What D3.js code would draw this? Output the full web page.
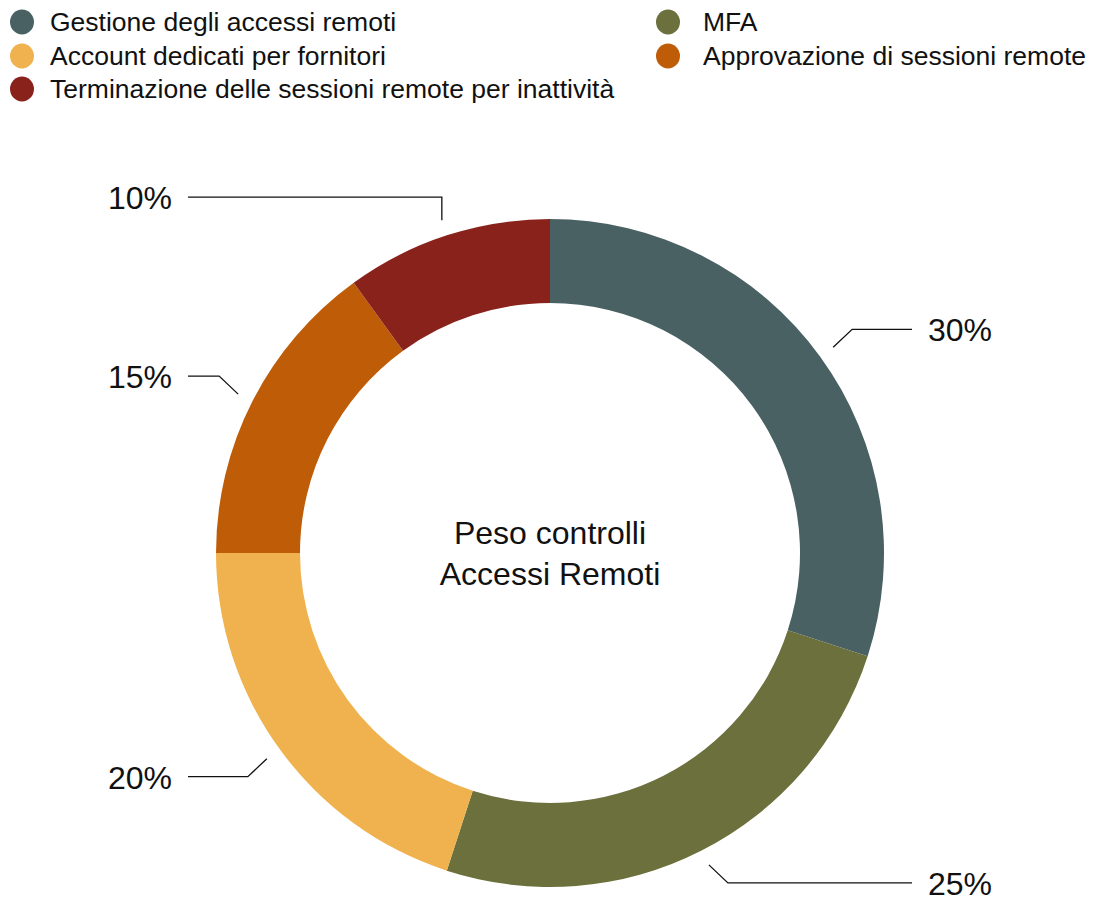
<!DOCTYPE html>
<html>
<head>
<meta charset="utf-8">
<script src="https://cdn.jsdelivr.net/npm/d3@7/dist/d3.min.js"></script>
<style>
  html, body { margin: 0; padding: 0; background: #ffffff; }
  svg { display: block; font-family: "Liberation Sans", Arial, Helvetica, sans-serif; }
</style>
</head>
<body>
<svg id="chart" width="1095" height="897"></svg>
<script>
// Control weights for remote access
const categories = [
  "Gestione degli accessi remoti",
  "MFA",
  "Account dedicati per fornitori",
  "Approvazione di sessioni remote",
  "Terminazione delle sessioni remote per inattività"
];
const values = [30, 25, 20, 15, 10];
const colors = ["#4a6163", "#6c703c", "#f0b24e", "#be5c08", "#8a221c"];
const centerTitle = ["Peso controlli", "Accessi Remoti"];

// Legend layout order (two columns, filled row by row)
const legendOrder = [0, 1, 2, 3, 4];

const svg = d3.select("#chart");

const cx = 550, cy = 553;
const outerR = 334, innerR = 250;

const color = d3.scaleOrdinal().domain(categories).range(colors);

const pie = d3.pie().sort(null).value(d => d.value);
const data = categories.map((c, i) => ({ name: c, value: values[i] }));
const arcs = pie(data);
const total = d3.sum(values);

const arc = d3.arc().innerRadius(innerR).outerRadius(outerR);

const g = svg.append("g").attr("transform", `translate(${cx},${cy})`);

g.selectAll("path.slice")
  .data(arcs)
  .join("path")
  .attr("class", "slice")
  .attr("d", arc)
  .attr("fill", d => color(d.data.name));

// Leader lines and percentage labels
const startArc = d3.arc().innerRadius(350).outerRadius(350);
const lineEndX = 362;

arcs.forEach(a => {
  const mid = (a.startAngle + a.endAngle) / 2;
  const [sx, sy] = startArc.centroid(a);
  const side = Math.sin(mid) >= 0 ? 1 : -1;
  const vert = Math.cos(mid) >= 0 ? -1 : 1;
  let ex, ey;
  if (Math.abs(Math.sin(mid)) < 0.4) {
    // near the top/bottom: straight vertical leader
    ex = sx; ey = sy + vert * 23;
  } else {
    ex = sx + side * 19; ey = sy + vert * 18;
  }
  const endX = side * lineEndX;
  g.append("path")
    .attr("d", `M${sx},${sy}L${ex},${ey}L${endX},${ey}`)
    .attr("fill", "none")
    .attr("stroke", "#111")
    .attr("stroke-width", 1.3);
  g.append("text")
    .attr("x", endX + side * 16)
    .attr("y", ey + 1)
    .attr("dy", "0.35em")
    .attr("text-anchor", side > 0 ? "start" : "end")
    .attr("font-size", 32)
    .attr("fill", "#111")
    .text(Math.round(a.data.value / total * 100) + "%");
});

// Center title
g.append("text")
  .attr("text-anchor", "middle")
  .attr("font-size", 32)
  .attr("fill", "#111")
  .selectAll("tspan")
  .data(centerTitle)
  .join("tspan")
  .attr("x", 0)
  .attr("y", (d, i) => -9 + i * 41)
  .text(d => d);

// Legend
const legendCols = [22, 668];
const textOffset = [28, 35];
const rowY = [22, 56, 89];
const legend = svg.append("g");
legendOrder.forEach((idx, k) => {
  const col = k % 2, row = Math.floor(k / 2);
  const item = legend.append("g")
    .attr("transform", `translate(${legendCols[col]},${rowY[row]})`);
  item.append("ellipse")
    .attr("rx", 12).attr("ry", 12.5)
    .attr("fill", color(categories[idx]));
  item.append("text")
    .attr("x", textOffset[col])
    .attr("dy", "0.35em")
    .attr("font-size", 26.5)
    .attr("fill", "#111")
    .text(categories[idx]);
});
</script>
</body>
</html>
